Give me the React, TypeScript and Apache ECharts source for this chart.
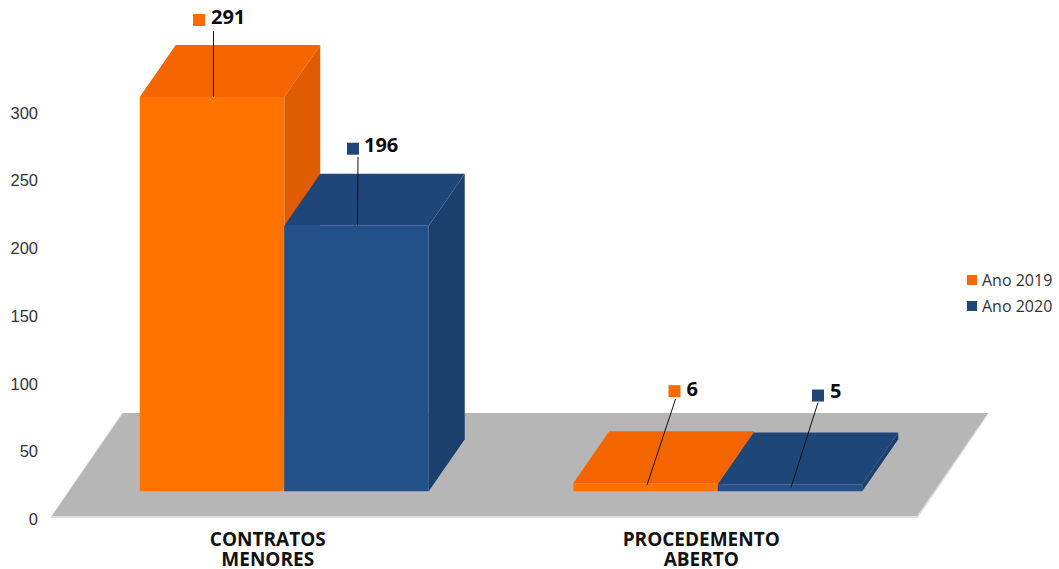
import React, { useEffect, useRef } from "react";
import * as echarts from "echarts";

const categories = ["CONTRATOS\nMENORES", "PROCEDEMENTO\nABERTO"];
const seriesNames = ["Ano 2019", "Ano 2020"];
const values2019 = [291, 6];
const values2020 = [196, 5];

const COLORS = [
  { front: "#ff7300", top: "#f46500", side: "#e05c00" },
  { front: "#225189", top: "#1f4679", side: "#1c406e" },
];
// 3D projection
const FLOOR_DX = 71;
const FLOOR_DY = -105;
const BASE_DX = 16.5;
const BASE_DY = -27.7;
const DEPTH_DX = 36;
const DEPTH_DY = -52;
// leader line and label placement relative to the centre of a bar's front top edge
const LABEL_LAYOUT = [
  [
    { a: [1.5, 0], b: [1.5, -66], m: [-19, -83], t: [-1, -80] },
    { a: [1, 0], b: [1.5, -69], m: [-9.5, -83], t: [7.5, -81] },
  ],
  [
    { a: [1.5, 2], b: [30, -84], m: [23, -98], t: [41, -95] },
    { a: [1, 3], b: [28, -82], m: [22, -95], t: [40, -94] },
  ],
];

const renderFloor = (_: any, api: any) => {
  const band = api.size([1, 0])[0];
  const l = api.coord([0, 0])[0] - band / 2;
  const r = api.coord([1, 0])[0] + band / 2;
  const y = api.coord([0, 0])[1] - 1;
  return {
    type: "group",
    children: [
      {
        type: "polygon",
        shape: { points: [[l - 1, y], [r, y], [r + FLOOR_DX, y + FLOOR_DY], [l + FLOOR_DX, y + FLOOR_DY]] },
        style: { fill: "#dedede" },
      },
      {
        type: "polygon",
        shape: { points: [[l + 1, y - 2], [r - 1, y - 2], [r + FLOOR_DX - 1, y + FLOOR_DY], [l + FLOOR_DX + 1, y + FLOOR_DY]] },
        style: { fill: "#b6b6b6" },
      },
    ],
  };
};

const makeBarRenderer = (seriesIndex: number) => (params: any, api: any) => {
  const c = COLORS[seriesIndex];
  const band = api.size([1, 0])[0];
  const w = band / 3;
  const value = api.value(1);
  const top = api.coord([api.value(0), value]);
  const zero = api.coord([api.value(0), 0]);
  const x0 = zero[0] - w + seriesIndex * w + BASE_DX;
  const x1 = x0 + w;
  const yTop = top[1] + BASE_DY;
  const yBase = zero[1] + BASE_DY;
  const cx = x0 + w / 2;
  const L = LABEL_LAYOUT[params.dataIndex][seriesIndex];
  return {
    type: "group",
    children: [
      {
        type: "polygon",
        shape: { points: [[x0, yTop], [x1, yTop], [x1 + DEPTH_DX, yTop + DEPTH_DY], [x0 + DEPTH_DX, yTop + DEPTH_DY]] },
        style: { fill: c.top },
      },
      {
        type: "polygon",
        shape: { points: [[x1, yTop], [x1 + DEPTH_DX, yTop + DEPTH_DY], [x1 + DEPTH_DX, yBase + DEPTH_DY], [x1, yBase]] },
        style: { fill: c.side },
      },
      { type: "rect", shape: { x: x0, y: yTop, width: w, height: yBase - yTop }, style: { fill: c.front } },
      {
        type: "line",
        shape: { x1: cx + L.a[0], y1: yTop + L.a[1], x2: cx + L.b[0], y2: yTop + L.b[1] },
        style: { stroke: "#111111", lineWidth: 1 },
      },
      {
        type: "rect",
        shape: { x: cx + L.m[0], y: yTop + L.m[1], width: 12, height: 12 },
        style: { fill: seriesIndex === 0 ? "#ff6a00" : c.top },
      },
      {
        type: "text",
        style: {
          x: cx + L.t[0],
          y: yTop + L.t[1],
          text: String(value),
          fill: "#0a0a0a",
          fontFamily: "Open Sans",
          fontWeight: "bold",
          fontSize: 20,
          verticalAlign: "middle",
          align: "left",
        },
      },
    ],
  };
};

export default function App() {
  const ref = useRef<HTMLDivElement>(null);
  useEffect(() => {
    const chart = echarts.init(ref.current!, undefined, { renderer: "svg" });
    chart.setOption({
      animation: false,
      backgroundColor: "#ffffff",
      grid: { left: 51, top: 112.5, width: 867, height: 406.5, containLabel: false },
      xAxis: {
        type: "category",
        data: categories,
        axisLine: { show: false },
        axisTick: { show: false },
        splitLine: { show: false },
        axisLabel: {
          margin: 10,
          interval: 0,
          fontFamily: "Open Sans",
          fontWeight: "bold",
          fontSize: 19,
          lineHeight: 20,
          color: "#111111",
        },
      },
      yAxis: {
        type: "value",
        min: 0,
        max: 300,
        interval: 50,
        axisLine: { show: false },
        axisTick: { show: false },
        splitLine: { show: false },
        axisLabel: {
          margin: 13,
          fontFamily: "Liberation Sans",
          fontSize: 16.5,
          color: "#333333",
        },
      },
      legend: {
        orient: "vertical",
        left: 967,
        top: 271,
        padding: 0,
        data: seriesNames,
        icon: "rect",
        itemWidth: 10,
        itemHeight: 10,
        itemGap: 8,
        selectedMode: false,
        textStyle: { fontFamily: "Open Sans", fontSize: 16, color: "#333333", lineHeight: 18 },
      },
      series: [
        {
          type: "custom",
          name: "floor",
          data: [[0, 0]],
          encode: { x: 0, y: 1 },
          renderItem: renderFloor,
          silent: true,
          z: 1,
        },
        {
          type: "custom",
          name: seriesNames[0],
          data: values2019.map((v, i) => [i, v]),
          encode: { x: 0, y: 1 },
          itemStyle: { color: "#ff6a00" },
          renderItem: makeBarRenderer(0),
          z: 2,
        },
        {
          type: "custom",
          name: seriesNames[1],
          data: values2020.map((v, i) => [i, v]),
          encode: { x: 0, y: 1 },
          itemStyle: { color: "#1f4679" },
          renderItem: makeBarRenderer(1),
          z: 3,
        },
      ],
    });
    return () => chart.dispose();
  }, []);
  return <div ref={ref} style={{ position: "fixed", left: 0, top: 0, width: 1059, height: 569 }} />;
}
